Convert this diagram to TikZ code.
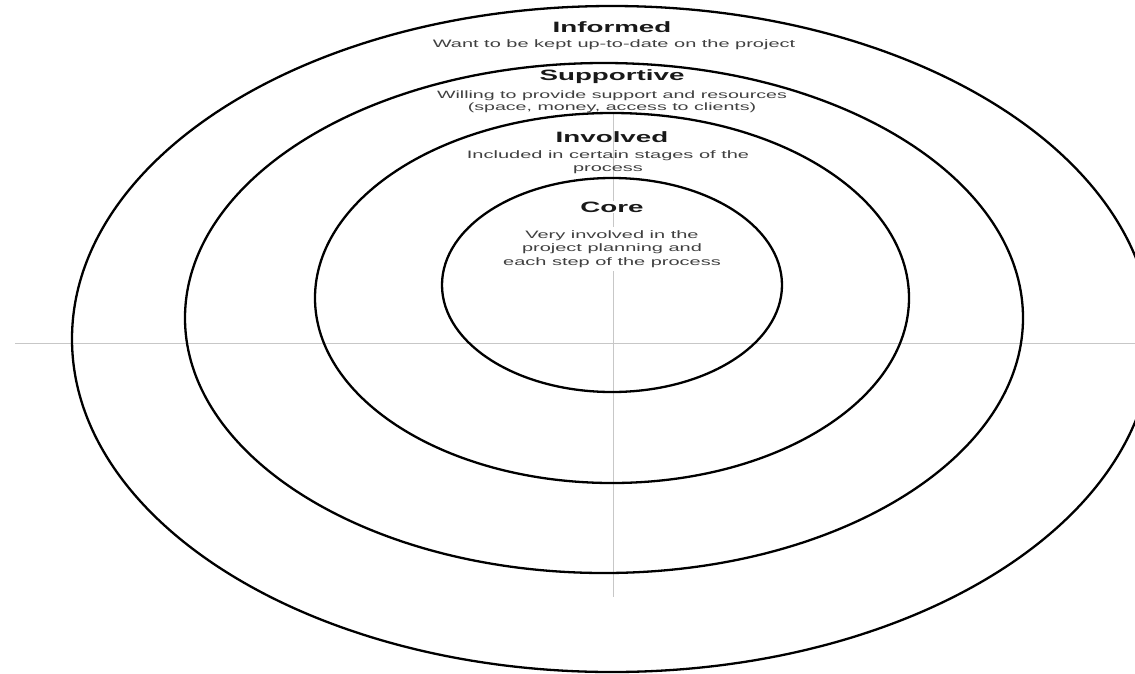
\documentclass[tikz,border=0pt]{standalone}
\usepackage{fontspec}
\newfontfamily\widesans[FakeStretch=1.85]{Liberation Sans}
\tikzset{ring/.style={line width=2.3pt},
  guide/.style={black!22,line width=0.9pt},
  title/.style={font=\widesans\bfseries\fontsize{15}{18}\selectfont,text=black!90},
  note/.style={font=\widesans\fontsize{10.8}{13}\selectfont,text=black!75,align=center}}

\begin{document}
\begin{tikzpicture}[x=1pt,y=-1pt]
    \useasboundingbox (0,0) rectangle (1135,673);
    % guide lines
    \draw[guide] (15,343) -- (1135,343);
    \draw[guide] (613,113) -- (613,597);
    % rings, outside in
    \draw[ring] (612,339) ellipse [x radius=540, y radius=333];
    \draw[ring] (604,318) ellipse [x radius=419, y radius=255];
    \draw[ring] (612,298) ellipse [x radius=297, y radius=185];
    \draw[ring] (612,285) ellipse [x radius=170, y radius=107];
    % labels
    \node[title] (informed) at (612,27) {Informed};
    \node[note] (informed-text) at (614,45) {Want to be kept up-to-date on the project};
    \node[title] (supportive) at (612,77) {Supportive};
    \node[note, font=\widesans\fontsize{10.6}{12}\selectfont] (supportive-text) at (612,102)
        {Willing to provide support and resources\\(space, money, access to clients)};
    \node[title] (involved) at (612,137) {Involved};
    \node[note] (involved-text) at (608,162) {Included in certain stages of the\\process};
    \node[title, fill=white, inner sep=1pt] (core) at (612,207) {Core};
    \node[note, fill=white, font=\widesans\fontsize{10.8}{13.5}\selectfont] (core-text) at (612,249)
        {Very involved in the\\project planning and\\each step of the process};
\end{tikzpicture}
\end{document}
